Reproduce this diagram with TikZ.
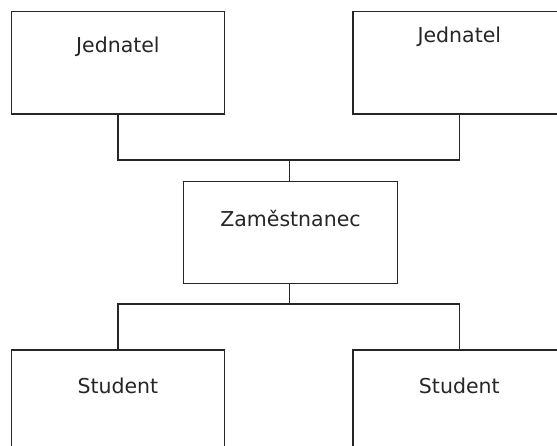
\documentclass[tikz,border=0pt]{standalone}
\usepackage{fontspec}
\setmainfont{DejaVu Sans}
\begin{document}
\begin{tikzpicture}[x=1bp,y=1bp,
  box/.style={draw=black!85, line width=1.3bp, minimum width=212.5bp, minimum height=102.3bp, inner sep=0pt, outer sep=0pt},
  lbl/.style={font=\fontsize{20.5bp}{23bp}\selectfont, text=black!85},
  wire/.style={draw=black!85, line width=1.3bp}]
\clip (0,0) rectangle (557,446);
\fill[white] (0,0) rectangle (557,446);
% boxes
\node[box] (tl) at (117.9,383.2) {};
\node[box] (tr) at (459.3,383.2) {};
\node[box, minimum width=214.4bp, minimum height=101.6bp] (mid) at (290.5,213.5) {};
\node[box] (bl) at (117.9,44.9) {};
\node[box] (br) at (459.3,44.9) {};
% texts
\node[lbl] (tlt) at ([yshift=-35bp]tl.north) {Jednatel};
\node[lbl] (trt) at ([yshift=-25bp]tr.north) {Jednatel};
\node[lbl] (midt) at ([yshift=-36.5bp]mid.north) {Zaměstnanec};
\node[lbl] (blt) at ([yshift=-36bp]bl.north) {Student};
\node[lbl] (brt) at ([yshift=-36bp]br.north) {Student};
% junctions
\coordinate (jt) at (289.3,286);
\coordinate (jb) at (289.3,142);
% connectors
\draw[wire] (tl.south) |- (jt) -| (tr.south);
\draw[wire] (jt) -- (jt |- mid.north);
\draw[wire] (jb |- mid.south) -- (jb);
\draw[wire] (bl.north) |- (jb) -| (br.north);
\end{tikzpicture}
\end{document}
